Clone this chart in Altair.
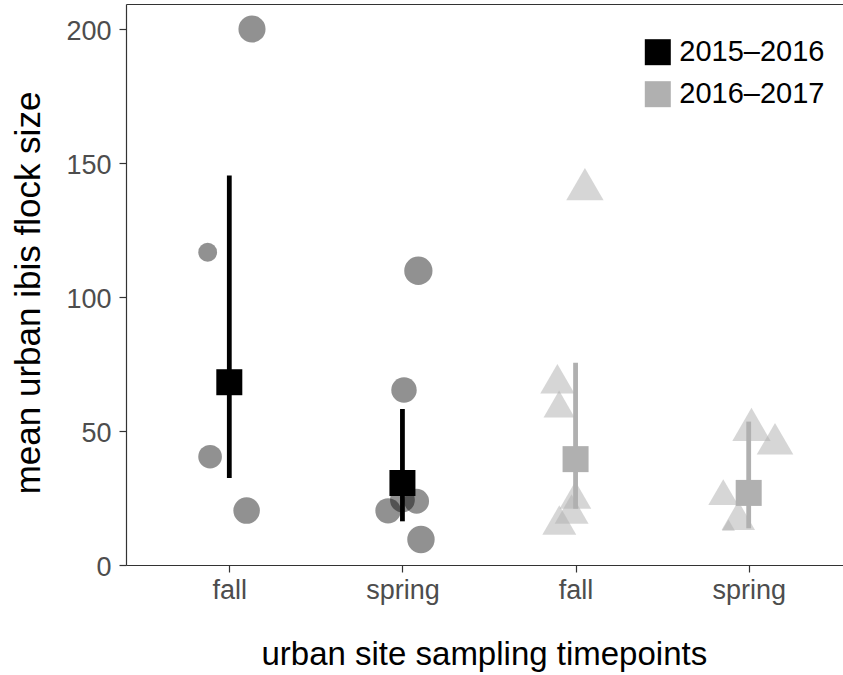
import altair as alt
import pandas as pd

# ---------------- data ----------------
group_labels = ["fall", "spring", "fall", "spring"]
group_years = ["2015–2016", "2015–2016", "2016–2017", "2016–2017"]
group_index = [1, 2, 3, 4]
group_mean = [68.2, 30.6, 39.5, 26.9]
group_lower = [32.5, 16.3, 21.0, 13.7]
group_upper = [145.3, 58.2, 75.5, 53.5]

# 2015–2016 urban sites (circles)
site15_group = [1, 1, 1, 1, 2, 2, 2, 2, 2, 2]
site15_jitter = [0.131, -0.125, -0.111, 0.100, 0.092, 0.009, -0.083, 0.082, 0.107, 0.0]
site15_value = [200.0, 116.7, 40.4, 20.3, 109.8, 65.3, 20.2, 23.8, 9.5, 24.3]
site15_weight = [9.2, 4.4, 7.0, 8.8, 10.0, 8.1, 8.1, 7.7, 9.4, 7.7]

# 2016–2017 urban sites (triangles)
site16_group = [3, 3, 3, 3, 3, 3, 4, 4, 4, 4, 4]
site16_jitter = [0.054, -0.105, -0.095, -0.001, -0.023, -0.094, 0.016, 0.152, -0.147, -0.060, -0.117]
site16_value = [142.1, 69.5, 60.1, 26.1, 20.9, 16.8, 52.5, 47.1, 27.2, 18.5, 14.9]
site16_weight = [7.5, 6.3, 5.2, 5.4, 6.2, 6.2, 7.9, 7.2, 4.8, 6.0, 0.9]

year_domain = ["2015–2016", "2016–2017"]
year_colors = ["#000000", "#b0b0b0"]

# ---------------- tables ----------------
df_mean = pd.DataFrame({
    "pos": group_index,
    "year": group_years,
    "mean": group_mean,
    "lower": group_lower,
    "upper": group_upper,
})
df15 = pd.DataFrame({
    "pos": [g + j for g, j in zip(site15_group, site15_jitter)],
    "value": site15_value,
    "weight": site15_weight,
})
df16 = pd.DataFrame({
    "pos": [g + j for g, j in zip(site16_group, site16_jitter)],
    "value": site16_value,
    "weight": site16_weight,
})

FONT = "Liberation Sans"
xscale = alt.Scale(domain=[0.4033, 4.5447], nice=False, zero=False)
yscale = alt.Scale(domain=[0, 209.33], nice=False, zero=True)
label_expr = "[" + ",".join("'%s'" % s for s in group_labels) + "][datum.value - 1]"

x_bottom = alt.Axis(
    orient="bottom", values=group_index, labelExpr=label_expr,
    title="urban site sampling timepoints", grid=False, tickSize=7,
    labelFontSize=27, labelColor="#4d4d4d", labelBaseline="alphabetic",
    labelPadding=26, titleFontSize=33, titleColor="black",
    titleFontWeight="normal", titleX=357.8, titleY=99.3,
    titleBaseline="alphabetic",
)
x_top = alt.Axis(orient="top", labels=False, ticks=False, title=None,
                 domain=True, grid=False)
y_axis = alt.Axis(
    orient="left", values=[0, 50, 100, 150, 200], grid=False, tickSize=7,
    labelFontSize=27, labelColor="#4d4d4d", labelBaseline="alphabetic",
    labelOffset=10.7, labelPadding=8, title="mean urban ibis flock size",
    titleFontSize=35, titleColor="black", titleFontWeight="normal",
    titleX=-86.7, titleY=288.5, titleBaseline="alphabetic", titleAngle=270,
)

circles = alt.Chart(df15).mark_circle(color="black", opacity=0.43).encode(
    x=alt.X("pos:Q", scale=xscale, axis=None),
    y=alt.Y("value:Q", scale=yscale, axis=y_axis),
    size=alt.Size("weight:Q", scale=alt.Scale(domain=[0, 10], range=[0, 800]), legend=None),
)

triangles = alt.Chart(df16).mark_point(
    shape="triangle-up", filled=True, color="#b0b0b0", opacity=0.52, strokeWidth=0
).encode(
    x=alt.X("pos:Q", scale=xscale, axis=None),
    y=alt.Y("value:Q", scale=yscale, axis=y_axis),
    size=alt.Size("weight:Q", scale=alt.Scale(domain=[0, 10], range=[0, 1860]), legend=None),
)

rules = alt.Chart(df_mean).mark_rule(strokeWidth=4.8).encode(
    x=alt.X("pos:Q", scale=xscale, axis=x_top),
    y=alt.Y("lower:Q", scale=yscale, axis=y_axis),
    y2="upper:Q",
    stroke=alt.condition(
        alt.datum.year == year_domain[0],
        alt.value(year_colors[0]),
        alt.value(year_colors[1]),
    ),
)

squares = alt.Chart(df_mean).mark_square(size=676, opacity=1).encode(
    x=alt.X("pos:Q", scale=xscale, axis=x_bottom),
    y=alt.Y("mean:Q", scale=yscale, axis=y_axis),
    color=alt.Color(
        "year:N",
        scale=alt.Scale(domain=year_domain, range=year_colors),
        legend=alt.Legend(
            title=None, orient="none", legendX=517.3, legendY=33.7,
            symbolType="square", symbolSize=676, symbolStrokeWidth=0,
            symbolOpacity=1, labelFontSize=29, labelFont=FONT,
            labelColor="black", labelOffset=7, rowPadding=12, padding=0,
        ),
    ),
)

chart = (
    alt.layer(circles, triangles, rules, squares)
    .resolve_scale(size="independent")
    .properties(
        width=717, height=561,
        autosize=alt.AutoSizeParams(type="none"),
        padding={"left": 126, "top": 4, "right": 0, "bottom": 110},
        background="white",
    )
    .configure_view(stroke=None)
    .configure_axis(
        domainColor="#333333", tickColor="#333333", domainWidth=1.2,
        tickWidth=1.2, labelFont=FONT, titleFont=FONT,
    )
)

chart.save("out.html", embed_options={"renderer": "svg", "actions": False})
